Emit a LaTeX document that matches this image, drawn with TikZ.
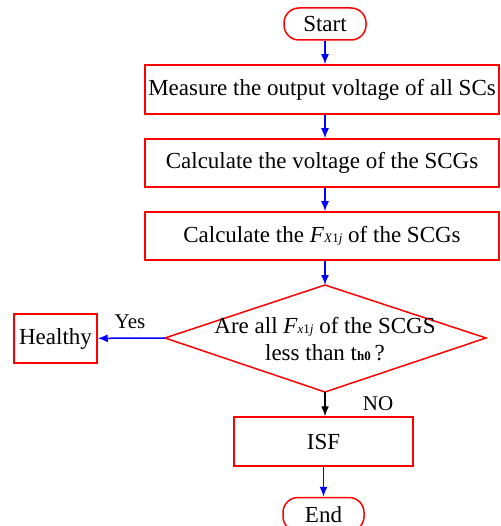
\documentclass[tikz,border=0pt]{standalone}
\usepackage{fontspec}
\setmainfont{Liberation Serif}
\usetikzlibrary{arrows.meta}
\newcommand{\subsm}[1]{{\fontsize{13}{13}\selectfont #1}}
\begin{document}
\begin{tikzpicture}[x=1pt,y=-1pt,
  box/.style={draw=red,line width=1.5pt,inner sep=0pt,font=\fontsize{23}{27}\selectfont},
  term/.style={draw=red,line width=1.5pt,rounded corners=15pt,inner sep=0pt,font=\fontsize{23}{27}\selectfont},
  flow/.style={blue,line width=1.5pt,-{Latex[length=10pt,width=8pt]}},
  flowk/.style={black,line width=1.5pt,-{Latex[length=10pt,width=8pt]}},
  lbl/.style={font=\fontsize{21}{24}\selectfont}]
\useasboundingbox (0,0) rectangle (500,526);
\node[term,minimum width=82pt,minimum height=32pt] (start) at (325,24) {Start};
\node[box,minimum width=354pt,minimum height=49pt] (b1) at (322,89.5) {Measure the output voltage of all SCs};
\node[box,minimum width=354pt,minimum height=48pt] (b2) at (322,163) {Calculate the voltage of the SCGs};
\node[box,minimum width=354pt,minimum height=48pt] (b3) at (322,236) {Calculate the \textit{F}\subsm{\textit{X}1\textit{j}} of the SCGs};
\draw[red,line width=1.5pt] (325,285) coordinate (dt) -- (486,338) coordinate (dr) -- (325,392) coordinate (db) -- (165,338) coordinate (dl) -- cycle;
\node[font=\fontsize{23}{27}\selectfont,align=center,inner sep=0pt] (q) at (325,339) {Are all \textit{F}\subsm{\textit{x}1\textit{j}} of the SCGS\\less than t\subsm{\textbf{h0}}\,?};
\node[box,minimum width=83pt,minimum height=49pt] (h) at (55.5,338.5) {Healthy};
\node[box,minimum width=179pt,minimum height=49pt] (isf) at (323.5,441.5) {ISF};
\node[term,minimum width=81pt,minimum height=34pt] (end) at (323.5,514.5) {End};
\draw[flow] (start.south) -- (start.south |- b1.north);
\draw[flow] (start.south |- b1.south) -- (start.south |- b2.north);
\draw[flow] (start.south |- b2.south) -- (start.south |- b3.north);
\draw[flow] (b3.south -| dt) -- (dt);
\draw[flow] (dl) -- (h);
\draw[flowk] (db) -- (db |- isf.north);
\draw[flow] (isf.south -| end) -- (end);
\node[lbl] (yes) at (130,322) {Yes};
\node[lbl] (no) at (378,404) {NO};
\end{tikzpicture}
\end{document}
